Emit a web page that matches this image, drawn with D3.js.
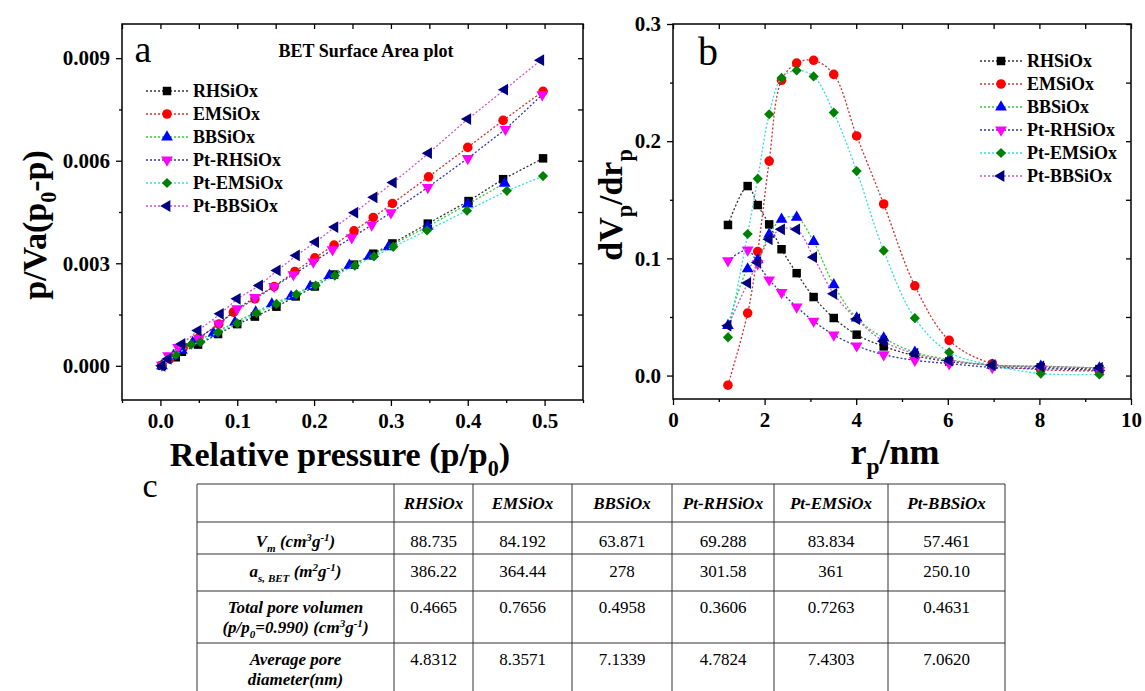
<!DOCTYPE html>
<html>
<head>
<meta charset="utf-8">
<script src="https://cdn.jsdelivr.net/npm/d3@7"></script>
<style>
  body { margin: 0; background: #fff; }
  svg { display: block; }
  svg text { font-family: 'Liberation Serif', 'DejaVu Serif', 'Times New Roman', serif; }
</style>
</head>
<body>
<svg id="chart" width="1145" height="691"></svg>
<script>
// Series names and styles
var seriesNames = ['RHSiOx', 'EMSiOx', 'BBSiOx', 'Pt-RHSiOx', 'Pt-EMSiOx', 'Pt-BBSiOx'];
var lineColors = ['#333333', '#cc3333', '#33cc33', '#3333aa', '#33dddd', '#cc55cc'];
var markColors = ['#000000', '#ff0000', '#0000ff', '#ff00ff', '#008000', '#000080'];

// Panel a: BET plot, [p/p0, p/Va(p0-p)]
var betRH = [[0.002,0.0],[0.02,0.00025],[0.028,0.00041],[0.049,0.00062],[0.075,0.00093],[0.100,0.00122],[0.123,0.00144],[0.151,0.00173],[0.176,0.00203],[0.201,0.00232],[0.226,0.00267],[0.252,0.00296],[0.277,0.00328],[0.302,0.00358],[0.348,0.00416],[0.401,0.00482],[0.446,0.00546],[0.498,0.00607]];
var betEM = [[0.002,0.00002],[0.012,0.0002],[0.03,0.00055],[0.05,0.00082],[0.076,0.00122],[0.095,0.00157],[0.123,0.00196],[0.148,0.00232],[0.175,0.00276],[0.201,0.00316],[0.226,0.00353],[0.252,0.00395],[0.277,0.00434],[0.302,0.00475],[0.349,0.00553],[0.40,0.00639],[0.446,0.00718],[0.498,0.00803]];
var betBB = [[0.002,0.0],[0.017,0.0003],[0.028,0.00045],[0.042,0.00068],[0.069,0.00095],[0.097,0.00127],[0.124,0.00157],[0.145,0.00181],[0.17,0.00203],[0.195,0.00232],[0.22,0.00264],[0.246,0.00294],[0.272,0.0032],[0.297,0.00348],[0.348,0.00408],[0.40,0.00473],[0.448,0.00534]];
var betPtRH = [[0.002,0.00002],[0.01,0.0003],[0.023,0.00054],[0.05,0.0008],[0.076,0.00123],[0.10,0.00167],[0.123,0.002],[0.148,0.00232],[0.173,0.00267],[0.199,0.00304],[0.224,0.0034],[0.249,0.00375],[0.275,0.00412],[0.30,0.00448],[0.348,0.00522],[0.40,0.00607],[0.449,0.00692],[0.497,0.00793]];
var betPtEM = [[0.002,0.0],[0.02,0.00032],[0.04,0.00062],[0.052,0.00069],[0.075,0.00098],[0.1,0.00124],[0.125,0.00154],[0.151,0.00181],[0.177,0.00209],[0.202,0.00235],[0.227,0.00264],[0.253,0.00293],[0.278,0.0032],[0.303,0.00348],[0.347,0.00396],[0.399,0.00454],[0.451,0.00512],[0.498,0.00555]];
var betPtBB = [[0.002,0.0],[0.01,0.0002],[0.028,0.00064],[0.049,0.00103],[0.078,0.00152],[0.100,0.00196],[0.129,0.00235],[0.152,0.00279],[0.177,0.00323],[0.202,0.00362],[0.227,0.00406],[0.253,0.00448],[0.278,0.00493],[0.303,0.00536],[0.349,0.00622],[0.40,0.00722],[0.448,0.00808],[0.495,0.00894]];

// Panel b: pore size distribution, rp (nm) and dVp/drp
var poreR = [1.2,1.63,1.85,2.1,2.37,2.7,3.07,3.51,4.01,4.6,5.28,6.03,6.97,8.03,9.31];
var psdRH = [0.1285,0.1617,0.1455,0.129,0.1078,0.0874,0.067,0.0491,0.0349,0.0249,0.017,0.012,0.009,0.007,0.0055];
var psdEM = [-0.0082,0.0533,0.1058,0.183,0.252,0.2667,0.269,0.257,0.2045,0.1464,0.0766,0.030,0.0100,0.005,0.004];
var psdBB = [0.0426,0.091,0.0987,0.1205,0.1333,0.135,0.1143,0.0774,0.049,0.032,0.0199,0.0136,0.0088,0.008,0.0065];
var psdPtRH = [0.098,0.1072,0.0955,0.0817,0.0709,0.0585,0.0465,0.0346,0.0254,0.0179,0.013,0.0102,0.007,0.006,0.0045];
var psdPtEM = [0.0326,0.1208,0.168,0.223,0.254,0.2604,0.2553,0.2244,0.1745,0.1066,0.049,0.0199,0.0088,0.0017,0.0009];
var psdPtBB = [0.0426,0.0789,0.0965,0.1163,0.1248,0.1248,0.101,0.0698,0.0482,0.0292,0.0187,0.0128,0.0088,0.0079,0.0065];

// Tick values
var aXTicks = [0, 0.1, 0.2, 0.3, 0.4, 0.5];
var aXMinor = [-0.05, 0.05, 0.15, 0.25, 0.35, 0.45, 0.55];
var aYTicks = [0, 0.003, 0.006, 0.009];
var aYMinor = [0.0015, 0.0045, 0.0075];
var bXTicks = [0, 2, 4, 6, 8, 10];
var bXMinor = [1, 3, 5, 7, 9];
var bYTicks = [0, 0.1, 0.2, 0.3];
var bYMinor = [0.05, 0.15, 0.25];

// Table c
var tableCols = ['RHSiOx', 'EMSiOx', 'BBSiOx', 'Pt-RHSiOx', 'Pt-EMSiOx', 'Pt-BBSiOx'];
var tableRowLabels = [
  ['V_{m} (cm^{3}g^{-1})'],
  ['a_{s, BET} (m^{2}g^{-1})'],
  ['Total pore volumen', '(p/p_{0}=0.990) (cm^{3}g^{-1})'],
  ['Average pore', 'diameter(nm)']
];
var tableValues = [
  ['88.735', '84.192', '63.871', '69.288', '83.834', '57.461'],
  ['386.22', '364.44', '278', '301.58', '361', '250.10'],
  ['0.4665', '0.7656', '0.4958', '0.3606', '0.7263', '0.4631'],
  ['4.8312', '8.3571', '7.1339', '4.7824', '7.4303', '7.0620']
];

var svg = d3.select('#chart');

// symbol per series: [type, rotation, area]
var symbols = [
  [d3.symbolSquare, 0, 72],
  [d3.symbolCircle, 0, 72],
  [d3.symbolTriangle, 0, 60],
  [d3.symbolTriangle, 180, 60],
  [d3.symbolSquare, 45, 52],
  [d3.symbolTriangle, -90, 60]
];

// writes text with _{sub} and ^{sup} parts as tspans
function rich(textSel, str, size) {
  var parts = str.split(/(_\{[^}]*\}|\^\{[^}]*\})/);
  var shift = 0;
  parts.forEach(function(p) {
    if (!p) return;
    var dy = 0, fs = size, txt = p;
    if (p[0] === '_') { dy = size * 0.28; fs = size * 0.65; txt = p.slice(2, -1); }
    else if (p[0] === '^') { dy = -size * 0.38; fs = size * 0.65; txt = p.slice(2, -1); }
    textSel.append('tspan').attr('dy', dy - shift).attr('font-size', fs).text(txt);
    shift = dy;
  });
}

function marker(g, i, x, y) {
  var s = symbols[i];
  g.append('path')
    .attr('d', d3.symbol().type(s[0]).size(s[2])())
    .attr('transform', 'translate(' + x + ',' + y + ') rotate(' + s[1] + ')')
    .attr('fill', markColors[i]);
}

function styleAxis(sel, size) {
  sel.select('.domain').remove();
  sel.selectAll('line').attr('stroke', '#000').attr('stroke-width', 1.3);
  sel.selectAll('text')
    .attr('font-family', null).attr('font-size', size)
    .attr('font-weight', 'bold').attr('fill', '#000');
}

function drawFrame(x, y, xMaj, xMin, yMaj, yMin, xFmt, yFmt) {
  var x0 = x.range()[0], x1 = x.range()[1];
  var y0 = y.range()[0], y1 = y.range()[1];
  var g = svg.append('g');
  g.append('g').attr('transform', 'translate(0,' + y0 + ')')
    .call(d3.axisBottom(x).tickValues(xMaj).tickSize(6).tickPadding(7).tickFormat(xFmt))
    .call(styleAxis, 21);
  g.append('g').attr('transform', 'translate(0,' + y0 + ')')
    .call(d3.axisBottom(x).tickValues(xMin).tickSize(3).tickFormat(''))
    .call(styleAxis, 21);
  g.append('g').attr('transform', 'translate(0,' + y1 + ')')
    .call(d3.axisTop(x).tickValues(xMaj.concat(xMin)).tickSize(-5).tickFormat(''))
    .call(styleAxis, 21);
  g.append('g').attr('transform', 'translate(' + x0 + ',0)')
    .call(d3.axisLeft(y).tickValues(yMaj).tickSize(6).tickPadding(6).tickFormat(yFmt))
    .call(styleAxis, 21);
  g.append('g').attr('transform', 'translate(' + x0 + ',0)')
    .call(d3.axisLeft(y).tickValues(yMin).tickSize(3).tickFormat(''))
    .call(styleAxis, 21);
  g.append('g').attr('transform', 'translate(' + x1 + ',0)')
    .call(d3.axisRight(y).tickValues(yMaj.concat(yMin)).tickSize(-5).tickFormat(''))
    .call(styleAxis, 21);
  g.append('rect')
    .attr('x', x0).attr('y', y1).attr('width', x1 - x0).attr('height', y0 - y1)
    .attr('fill', 'none').attr('stroke', '#000').attr('stroke-width', 1.5);
  return g;
}

function drawSeries(g, data, x, y, curve) {
  var line = d3.line().x(function(d) { return x(d[0]); }).y(function(d) { return y(d[1]); }).curve(curve);
  data.forEach(function(pts, i) {
    g.append('path').attr('d', line(pts))
      .attr('fill', 'none').attr('stroke', lineColors[i])
      .attr('stroke-width', 1.3).attr('stroke-dasharray', '2,2');
    pts.forEach(function(d) { marker(g, i, x(d[0]), y(d[1])); });
  });
}

function drawLegend(lx, ly, step) {
  var g = svg.append('g');
  seriesNames.forEach(function(name, i) {
    var yy = ly + i * step;
    g.append('line').attr('x1', lx).attr('x2', lx + 42).attr('y1', yy).attr('y2', yy)
      .attr('stroke', lineColors[i]).attr('stroke-width', 1.3).attr('stroke-dasharray', '2,2');
    marker(g, i, lx + 21, yy);
    g.append('text').attr('x', lx + 47).attr('y', yy + 6)
      .attr('font-size', 18).attr('font-weight', 'bold')
      .text(name);
  });
}

// ---------- Panel a ----------
var xA = d3.scaleLinear().domain([-0.05, 0.55]).range([122, 583]);
var yA = d3.scaleLinear().domain([-0.001, 0.010]).range([400, 24]);
var gA = drawFrame(xA, yA, aXTicks, aXMinor, aYTicks, aYMinor, d3.format('.1f'), d3.format('.3f'));
drawSeries(gA, [betRH, betEM, betBB, betPtRH, betPtEM, betPtBB], xA, yA, d3.curveLinear);
drawLegend(146, 91, 23);

svg.append('text').attr('x', 143).attr('y', 62).attr('text-anchor', 'middle')
  .attr('font-size', 38).text('a');
svg.append('text').attr('x', 366).attr('y', 57).attr('text-anchor', 'middle')
  .attr('font-size', 18).attr('font-weight', 'bold')
  .text('BET Surface Area plot');

var tAx = svg.append('text').attr('x', 340).attr('y', 466).attr('text-anchor', 'middle')
  .attr('font-size', 34).attr('font-weight', 'bold');
rich(tAx, 'Relative pressure (p/p_{0})', 34);
var tAy = svg.append('text').attr('transform', 'translate(46,225) rotate(-90)').attr('text-anchor', 'middle')
  .attr('font-size', 34).attr('font-weight', 'bold');
rich(tAy, 'p/Va(p_{0}-p)', 34);

// ---------- Panel b ----------
var xB = d3.scaleLinear().domain([0, 10]).range([673, 1131]);
var yB = d3.scaleLinear().domain([-0.02, 0.3]).range([399, 24]);
var gB = drawFrame(xB, yB, bXTicks, bXMinor, bYTicks, bYMinor, d3.format('d'), d3.format('.1f'));
var psd = [psdRH, psdEM, psdBB, psdPtRH, psdPtEM, psdPtBB].map(function(s) {
  return s.map(function(v, k) { return [poreR[k], v]; });
});
drawSeries(gB, psd, xB, yB, d3.curveCatmullRom.alpha(0.5));
drawLegend(980, 61, 23);

svg.append('text').attr('x', 708).attr('y', 65).attr('text-anchor', 'middle')
  .attr('font-size', 40).text('b');
var tBx = svg.append('text').attr('x', 895).attr('y', 464).attr('text-anchor', 'middle')
  .attr('font-size', 36).attr('font-weight', 'bold');
rich(tBx, 'r_{p}/nm', 36);
var tBy = svg.append('text').attr('transform', 'translate(622,205) rotate(-90)').attr('text-anchor', 'middle')
  .attr('font-size', 34).attr('font-weight', 'bold');
rich(tBy, 'dV_{p}/dr_{p}', 34);

// ---------- Table c ----------
var colEdges = [197, 394, 473, 572, 672, 774, 888, 1005];
var rowEdges = [484, 522, 554, 591, 643, 695];
var gT = svg.append('g');
svg.append('text').attr('x', 150).attr('y', 497).attr('text-anchor', 'middle')
  .attr('font-size', 34).text('c');

colEdges.forEach(function(cx) {
  gT.append('line').attr('x1', cx).attr('x2', cx).attr('y1', rowEdges[0]).attr('y2', rowEdges[rowEdges.length - 1])
    .attr('stroke', '#333').attr('stroke-width', 1);
});
rowEdges.forEach(function(ry) {
  gT.append('line').attr('x1', colEdges[0]).attr('x2', colEdges[colEdges.length - 1]).attr('y1', ry).attr('y2', ry)
    .attr('stroke', '#333').attr('stroke-width', 1);
});

tableCols.forEach(function(c, j) {
  gT.append('text').attr('x', (colEdges[j + 1] + colEdges[j + 2]) / 2).attr('y', 509)
    .attr('text-anchor', 'middle').attr('font-size', 17)
    .attr('font-weight', 'bold').attr('font-style', 'italic').text(c);
});

var rowBase = [547, 577, 613, 665];
tableRowLabels.forEach(function(lines, r) {
  lines.forEach(function(l, k) {
    var t = gT.append('text').attr('x', (colEdges[0] + colEdges[1]) / 2).attr('y', rowBase[r] + k * 20)
      .attr('text-anchor', 'middle').attr('font-size', 17)
      .attr('font-weight', 'bold').attr('font-style', 'italic');
    rich(t, l, 17);
  });
  tableValues[r].forEach(function(v, j) {
    gT.append('text').attr('x', (colEdges[j + 1] + colEdges[j + 2]) / 2).attr('y', rowBase[r])
      .attr('text-anchor', 'middle').attr('font-size', 17).text(v);
  });
});
</script>
</body>
</html>
